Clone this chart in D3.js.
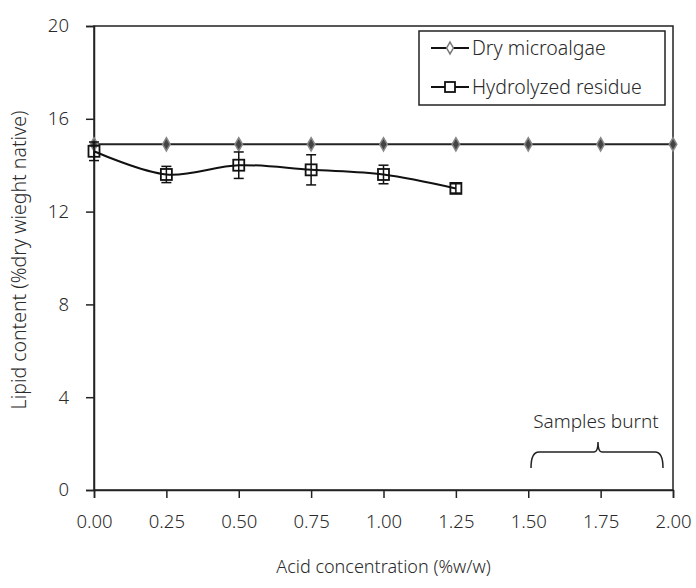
<!DOCTYPE html>
<html>
<head>
<meta charset="utf-8">
<script src="https://cdn.jsdelivr.net/npm/d3@7"></script>
<style>
  body { margin: 0; background: #fff; }
  svg text { font-family: "Noto Sans", "DejaVu Sans", sans-serif; fill: #2a2a2a; font-weight: 300; }
</style>
</head>
<body>
<svg id="chart" width="696" height="588"></svg>
<script>
// Acid concentration levels (%w/w)
const acidLevels = [0, 0.25, 0.5, 0.75, 1.0, 1.25, 1.5, 1.75, 2.0];
// Lipid content of untreated dry microalgae
const dryMicroalgae = [14.9, 14.9, 14.9, 14.9, 14.9, 14.9, 14.9, 14.9, 14.9];
// Lipid content of the hydrolyzed residue (samples above 1.25 burnt)
const residueX = [0, 0.25, 0.5, 0.75, 1.0, 1.25];
const residueY = [14.6, 13.6, 14.0, 13.8, 13.6, 13.0];
const residueErr = [0.4, 0.35, 0.57, 0.65, 0.4, 0.2];
const xTicks = [0, 0.25, 0.5, 0.75, 1.0, 1.25, 1.5, 1.75, 2.0];
const yTicks = [0, 4, 8, 12, 16, 20];

const svg = d3.select("#chart");
const margin = { left: 94, right: 23, top: 26, bottom: 98 };
const W = 696, H = 588;

const x = d3.scaleLinear().domain([0, 2]).range([margin.left, W - margin.right]);
const y = d3.scaleLinear().domain([0, 20]).range([H - margin.bottom, margin.top]);

// Frame
svg.append("rect")
  .attr("x", x(0)).attr("y", y(20))
  .attr("width", x(2) - x(0)).attr("height", y(0) - y(20))
  .attr("fill", "none").attr("stroke", "#222").attr("stroke-width", 1.5);

// Axes
const xAxis = svg.append("g")
  .attr("transform", `translate(0,${y(0)})`)
  .call(d3.axisBottom(x).tickValues(xTicks).tickFormat(d3.format(".2f")).tickSize(8).tickPadding(17));
const yAxis = svg.append("g")
  .attr("transform", `translate(${x(0)},0)`)
  .call(d3.axisLeft(y).tickValues(yTicks).tickFormat(d3.format("d")).tickSize(8).tickPadding(17));
[xAxis, yAxis].forEach(g => {
  g.select(".domain").attr("stroke", "#222").attr("stroke-width", 1.5);
  g.selectAll(".tick line").attr("stroke", "#222").attr("stroke-width", 1.5);
  g.selectAll(".tick text").attr("font-size", 18.5)
    .style("font-family", "\"Noto Sans\", sans-serif").style("font-weight", 300).attr("fill", "#2a2a2a");
});

// Axis titles
svg.append("text")
  .attr("x", (x(0) + x(2)) / 2).attr("y", 573)
  .attr("text-anchor", "middle").attr("font-size", 18)
  .text("Acid concentration (%w/w)");
svg.append("text")
  .attr("transform", `translate(26,${(y(0) + y(20)) / 2 + 2}) rotate(-90)`)
  .attr("text-anchor", "middle").attr("font-size", 19.5)
  .text("Lipid content (%dry wieght native)");

// Dry microalgae series
const dryData = acidLevels.map((a, i) => [a, dryMicroalgae[i]]);
svg.append("path")
  .datum(dryData)
  .attr("fill", "none").attr("stroke", "#222").attr("stroke-width", 2)
  .attr("d", d3.line().x(d => x(d[0])).y(d => y(d[1])));
const diamond = d3.symbol().type(d3.symbolDiamond).size(50);
svg.append("g").selectAll("path")
  .data(dryData).join("path")
  .attr("transform", d => `translate(${x(d[0])},${y(d[1])})`)
  .attr("d", diamond)
  .attr("fill", "#444").attr("stroke", "#888").attr("stroke-width", 1.5);

// Hydrolyzed residue series
const resData = residueX.map((a, i) => [a, residueY[i], residueErr[i]]);
svg.append("path")
  .datum(resData)
  .attr("fill", "none").attr("stroke", "#111").attr("stroke-width", 2)
  .attr("d", d3.line().curve(d3.curveCatmullRom.alpha(0.5)).x(d => x(d[0])).y(d => y(d[1])));

const eb = svg.append("g").attr("stroke", "#111").attr("stroke-width", 1.5);
resData.forEach(d => {
  const cx = x(d[0]);
  eb.append("line").attr("x1", cx).attr("x2", cx).attr("y1", y(d[1] - d[2])).attr("y2", y(d[1] + d[2]));
  [d[1] - d[2], d[1] + d[2]].forEach(v => {
    eb.append("line").attr("x1", cx - 5).attr("x2", cx + 5).attr("y1", y(v)).attr("y2", y(v));
  });
});
svg.append("g").selectAll("rect")
  .data(resData).join("rect")
  .attr("x", d => x(d[0]) - 5.5).attr("y", d => y(d[1]) - 5.5)
  .attr("width", 11).attr("height", 11)
  .attr("fill", "none").attr("stroke", "#111").attr("stroke-width", 1.8);

// Legend
const lg = svg.append("g");
lg.append("rect").attr("x", 419).attr("y", 31).attr("width", 246).attr("height", 74)
  .attr("fill", "#fff").attr("stroke", "#222").attr("stroke-width", 1.5);
const rows = [
  { label: "Dry microalgae", yy: 48, marker: "diamond" },
  { label: "Hydrolyzed residue", yy: 87, marker: "square" }
];
rows.forEach(r => {
  lg.append("line").attr("x1", 431).attr("x2", 469).attr("y1", r.yy).attr("y2", r.yy)
    .attr("stroke", "#111").attr("stroke-width", 2);
  if (r.marker === "diamond") {
    lg.append("path").attr("transform", `translate(450,${r.yy})`)
      .attr("d", d3.symbol().type(d3.symbolDiamond).size(40))
      .attr("fill", "#fff").attr("stroke", "#777").attr("stroke-width", 1.5);
  } else {
    lg.append("rect").attr("x", 445).attr("y", r.yy - 5).attr("width", 10).attr("height", 10)
      .attr("fill", "#fff").attr("stroke", "#111").attr("stroke-width", 1.8);
  }
  lg.append("text").attr("x", 472).attr("y", r.yy + 7).attr("font-size", 19.5).text(r.label);
});

// Annotation for burnt samples
svg.append("text").attr("x", 596).attr("y", 428).attr("text-anchor", "middle")
  .attr("font-size", 19).text("Samples burnt");
const bx0 = 531, bx1 = 663, bxm = 598, by = 452;
svg.append("path")
  .attr("d", `M${bx0},${by + 16} Q${bx0},${by} ${bx0 + 8},${by} L${bxm - 4},${by} Q${bxm},${by} ${bxm},${by - 10} Q${bxm},${by} ${bxm + 4},${by} L${bx1 - 8},${by} Q${bx1},${by} ${bx1},${by + 16}`)
  .attr("fill", "none").attr("stroke", "#222").attr("stroke-width", 1.5);
</script>
</body>
</html>
